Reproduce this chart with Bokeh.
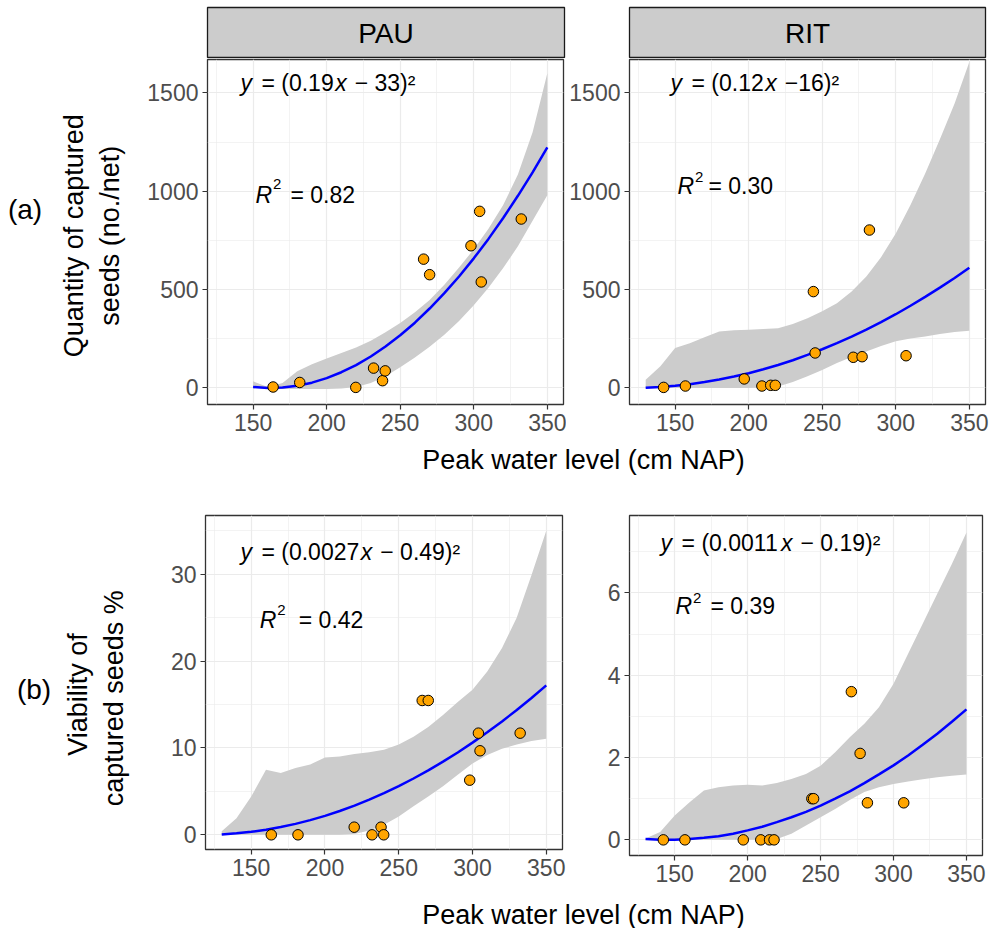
from math import pi
from bokeh.plotting import figure
from bokeh.models import FixedTicker, Label, Range1d
from bokeh.layouts import column, row
from bokeh.embed import file_html
from bokeh.resources import INLINE

# ---------------- data ----------------
sites = ["PAU", "RIT"]

pau_level = [163.6, 181.7, 219.8, 231.9, 238.0, 239.8, 265.9, 270.0, 298.1, 304.0, 305.1, 332.3]
pau_quantity = [5, 28, 3, 101, 37, 87, 655, 576, 723, 898, 539, 859]
pau_viability = [0, 0, 0.88, 0, 0.88, 0, 15.46, 15.46, 6.29, 11.7, 9.67, 11.7]

rit_level = [142.2, 157.0, 197.0, 209.0, 215.0, 218.1, 244.0, 245.2, 271.1, 277.1, 282.1, 307.0]
rit_quantity = [3, 10, 46, 10, 13.5, 13.5, 490, 178, 156, 159, 803, 164]
rit_viability = [0, 0, 0, 0, 0, 0, 1.0, 1.0, 3.6, 2.1, 0.9, 0.9]

# fitted curves and confidence bands
fit_x_pau_q = [150, 160, 170, 180, 190, 200, 210, 220, 230, 240, 250,
               260, 270, 280, 290, 300, 310, 320, 330, 340, 350]
fit_pau_q = [5, 0, 2, 11, 27, 50, 80, 116, 160, 211, 268,
             332, 404, 482, 567, 659, 758, 864, 977, 1096, 1223]
upper_pau_q = [34, 5, 25, 85, 120, 150, 178, 206, 240, 283, 330,
               385, 447, 525, 612, 705, 810, 930, 1085, 1300, 1600]
lower_pau_q = [0, -3, -5, -5, -5, -5, -3, 5, 25, 60, 105,
               155, 210, 270, 340, 420, 510, 610, 720, 850, 980]

fit_x = [130, 140, 150, 160, 170, 180, 190, 200, 210, 220, 230, 240,
         250, 260, 270, 280, 290, 300, 310, 320, 330, 340, 350]
fit_rit_q = [1, 5, 11, 19, 30, 43, 58, 75, 95, 117, 141, 168,
             197, 228, 261, 297, 335, 375, 418, 463, 510, 559, 611]
upper_rit_q = [42, 110, 203, 228, 258, 287, 293, 296, 300, 304, 325, 355,
               390, 431, 490, 567, 665, 786, 930, 1091, 1265, 1446, 1657]
lower_rit_q = [0, 0, 0, 0, 0, 0, 0, 0, 3, 8, 30, 59,
               92, 127, 158, 186, 213, 237, 251, 262, 274, 284, 291]

fit_pau_v = [0.05, 0.17, 0.34, 0.59, 0.89, 1.26, 1.69, 2.18, 2.74, 3.36, 4.05, 4.79,
             5.60, 6.48, 7.41, 8.42, 9.48, 10.61, 11.80, 13.05, 14.37, 15.75, 17.20]
upper_pau_v = [0.4, 1.9, 4.4, 7.5, 7.1, 7.7, 8.1, 8.9, 9.0, 9.3, 9.5, 9.8,
               10.4, 11.3, 12.4, 13.8, 15.3, 16.7, 18.8, 21.5, 25.0, 29.9, 35.0]
lower_pau_v = [0, 0, 0, 0, 0, 0, 0, 0, 0, 0.1, 0.5, 1.15,
               2.1, 3.3, 4.4, 5.6, 6.9, 8.2, 9.2, 9.9, 10.4, 10.8, 11.05]

fit_rit_v = [0.02, 0.0, 0.0, 0.02, 0.05, 0.09, 0.15, 0.23, 0.32, 0.43, 0.55, 0.68,
             0.83, 1.00, 1.18, 1.38, 1.59, 1.81, 2.05, 2.31, 2.58, 2.87, 3.17]
upper_rit_v = [0.03, 0.19, 0.59, 0.91, 1.2, 1.28, 1.32, 1.34, 1.32, 1.38, 1.48, 1.6,
               1.8, 2.13, 2.49, 2.82, 3.22, 3.79, 4.52, 5.25, 5.98, 6.7, 7.47]
lower_rit_v = [0, 0, 0, 0, 0, 0, 0, 0, 0, 0.02, 0.15, 0.35,
               0.55, 0.75, 0.97, 1.16, 1.28, 1.36, 1.42, 1.47, 1.52, 1.56, 1.59]

x_ticks = [150, 200, 250, 300, 350]
x_minor = [125, 175, 225, 275, 325]
q_ticks = [0, 500, 1000, 1500]
q_minor = [250, 750, 1250]
pau_v_ticks = [0, 10, 20, 30]
pau_v_minor = [5, 15, 25, 35]
rit_v_ticks = [0, 2, 4, 6]
rit_v_minor = [1, 3, 5, 7]

# ---------------- styling helpers ----------------
FONT = "Liberation Sans"
W = {' ': 0.278, '=': 0.584, '(': 0.333, ')': 0.333, '.': 0.278, '\u2212': 0.584}


def text_w(s, fs):
    return sum(W.get(c, 0.556) for c in s) * fs


def blank(fw, fh, xr, yr, top=0, bottom=0):
    b = figure(frame_width=fw, frame_height=fh, min_border=0, min_border_top=top,
               min_border_bottom=bottom, x_range=Range1d(0, xr),
               y_range=Range1d(0, yr), x_axis_type=None, y_axis_type=None,
               toolbar_location=None, output_backend="svg")
    b.grid.visible = False
    b.outline_line_color = None
    b.background_fill_color = "white"
    b.border_fill_color = "white"
    return b


def panel(fw, fh, left, right, top, bottom, yr, yt, ym):
    p = figure(frame_width=fw, frame_height=fh, min_border_left=left, min_border_right=right,
               min_border_top=top, min_border_bottom=bottom,
               x_range=Range1d(119, 361), y_range=Range1d(*yr),
               toolbar_location=None, output_backend="svg")
    p.background_fill_color = "white"
    p.border_fill_color = "white"
    p.outline_line_color = "#333333"
    p.outline_line_width = 1.3
    p.xaxis.ticker = FixedTicker(ticks=x_ticks, minor_ticks=x_minor)
    p.yaxis.ticker = FixedTicker(ticks=yt, minor_ticks=ym)
    p.axis.axis_line_color = None
    p.axis.major_tick_line_color = "#333333"
    p.axis.major_tick_line_width = 1.2
    p.axis.major_tick_out = 5
    p.axis.major_tick_in = 0
    p.axis.minor_tick_line_color = None
    p.axis.major_label_text_font = FONT
    p.axis.major_label_text_font_size = "23px"
    p.axis.major_label_text_color = "#4D4D4D"
    p.axis.major_label_standoff = 4
    p.grid.grid_line_color = "#EBEBEB"
    p.grid.grid_line_width = 1.2
    p.grid.minor_grid_line_color = "#EBEBEB"
    p.grid.minor_grid_line_width = 0.6
    return p


def ylabel(p, text):
    p.yaxis.axis_label = text
    p.yaxis.axis_label_text_font = FONT
    p.yaxis.axis_label_text_font_size = "27px"
    p.yaxis.axis_label_text_font_style = "normal"
    p.yaxis.axis_label_text_color = "black"
    p.yaxis.axis_label_standoff = 19


def draw(p, fx, fy, up, lo, px, py):
    p.patch(fx + fx[::-1], up + lo[::-1], fill_color="#CCCCCC", line_color=None)
    p.line(fx, fy, line_color="#0000FF", line_width=2.5)
    p.scatter(px, py, size=10.5, fill_color="#FFA500", line_color="black", line_width=1)


def lab(p, x, y, text, dx=0, dy=0, fs=23, style="normal", align="left", angle=0):
    p.add_layout(Label(x=x, y=y, x_offset=dx, y_offset=dy, text=text, text_font=FONT,
                       text_font_size=f"{fs}px", text_font_style=style, text_color="black",
                       text_baseline="middle", text_align=align, angle=angle))


def equation(p, x, y, coef, tail):
    fs = 23
    lab(p, x, y, "y", 0, style="italic")
    mid = "= (" + coef
    lab(p, x, y, mid, 21)
    xo = 21 + text_w(mid, fs) + 1.5
    lab(p, x, y, "x", xo, style="italic")
    lab(p, x, y, tail, xo + 11.5 + 8)


def r2(p, x, y, val, eq_off, sup=10):
    lab(p, x, y, "R", 0, style="italic")
    lab(p, x, y, "2", 17.5, sup, fs=15)
    lab(p, x, y, "= " + val, eq_off)


# ---------------- strips ----------------
def strip(text, fw, left, right):
    s = figure(frame_width=fw, frame_height=51, min_border_left=left, min_border_right=right,
               min_border_top=7, min_border_bottom=0, x_range=Range1d(0, 1), y_range=Range1d(0, 1),
               x_axis_type=None, y_axis_type=None, toolbar_location=None, output_backend="svg")
    s.grid.visible = False
    s.background_fill_color = "#CCCCCC"
    s.border_fill_color = "white"
    s.outline_line_color = "#1A1A1A"
    s.outline_line_width = 1.3
    s.add_layout(Label(x=0.5, y=0.5, text=text, text_align="center", text_baseline="middle",
                       text_font=FONT, text_font_size="28px", text_color="black"))
    return s


def title_fig(h, yc):
    t = blank(990, h, 990, h)
    t.add_layout(Label(x=583, y=yc, text="Peak water level (cm NAP)", text_align="center",
                       text_baseline="middle", text_font=FONT, text_font_size="27px",
                       text_color="black"))
    return t


s1 = strip(sites[0], 357, 207, 2)
s2 = strip(sites[1], 356, 63, 5)

# ---------------- row (a) ----------------
q_range = (-84, 1670)
tag_a = blank(50, 345, 50, 345, top=1, bottom=36)
lab(tag_a, 24.5, 195, "(a)", fs=28, align="center")

tl = panel(356, 345, 157, 3, 1, 36, q_range, q_ticks, q_minor)
draw(tl, fit_x_pau_q, fit_pau_q, upper_pau_q, lower_pau_q, pau_level, pau_quantity)
ylabel(tl, "Quantity of  captured\nseeds  (no./net)")
equation(tl, 141.4, 1553, "0.19", "\u2212 33)\u00b2")
r2(tl, 151.6, 980, "0.82", 35, 11)

tr = panel(356, 345, 63, 5, 1, 36, q_range, q_ticks, q_minor)
draw(tr, fit_x, fit_rit_q, upper_rit_q, lower_rit_q, rit_level, rit_quantity)
equation(tr, 146.9, 1553, "0.12", "\u221216)\u00b2")
r2(tr, 151.6, 1028, "0.30", 31, 9)

t1 = title_fig(40, 21)

# ---------------- row (b) ----------------
tag_b = blank(140, 340, 140, 340, top=35, bottom=35)
lab(tag_b, 33.5, 166, "(b)", fs=28, align="center")
lab(tag_b, 95, 161, "Viability of\ncaptured seeds  %", fs=27, align="center", angle=pi / 2)

bl = panel(357, 334, 65, 4, 35, 41, (-1.69, 36.75), pau_v_ticks, pau_v_minor)
draw(bl, fit_x, fit_pau_v, upper_pau_v, lower_pau_v, pau_level, pau_viability)
equation(bl, 142.7, 32.57, "0.0027", "\u2212 0.49)\u00b2")
r2(bl, 155.8, 24.78, "0.42", 39, 10)

br = panel(353, 340, 63, 8, 35, 35, (-0.38, 7.88), rit_v_ticks, rit_v_minor)
draw(br, fit_x, fit_rit_v, upper_rit_v, lower_rit_v, rit_level, rit_viability)
equation(br, 140.3, 7.224, "0.0011", "\u2212 0.19)\u00b2")
r2(br, 150.5, 5.686, "0.39", 35, 8)

t2 = title_fig(38, 14)

layout = column(row(s1, s2), row(tag_a, tl, tr), t1, row(tag_b, bl, br), t2)

open("out.html", "w").write(file_html(layout, INLINE))
